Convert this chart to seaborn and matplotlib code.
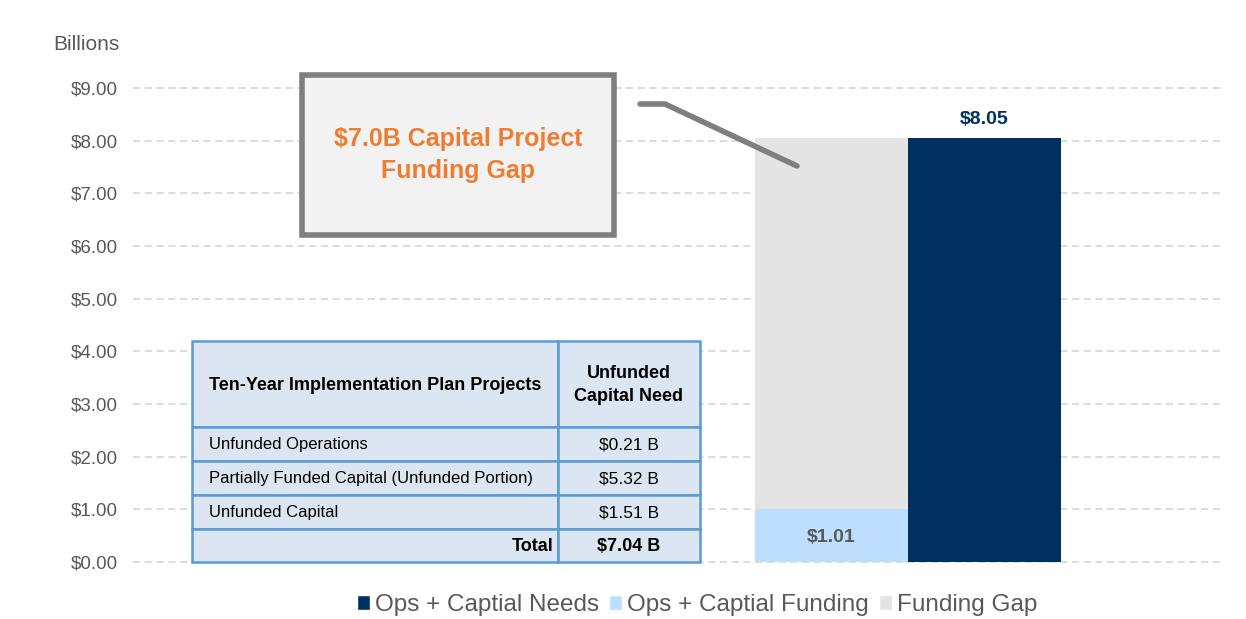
import matplotlib
matplotlib.use("Agg")
import matplotlib.pyplot as plt
import seaborn as sns
from matplotlib.patches import Rectangle, Patch
from matplotlib.lines import Line2D

# data
categories = ["Ops + Captial Funding", "Ops + Captial Needs"]
funding = 1.01
gap = 7.04
needs = 8.05
y_ticks = [0, 1, 2, 3, 4, 5, 6, 7, 8, 9]

table_header = ["Ten-Year Implementation Plan Projects", "Unfunded\nCapital Need"]
table_projects = ["Unfunded Operations",
                  "Partially Funded Capital (Unfunded Portion)",
                  "Unfunded Capital"]
table_amounts = [0.21, 5.32, 1.51]
table_total = 7.04

callout_text = "$7.0B Capital Project\nFunding Gap"

NAVY = "#00305F"
LIGHT_BLUE = "#BDDEFD"
GREY = "#E4E4E4"
ORANGE = "#EE7D31"
TXT = "#595959"
TABLE_FILL = "#DCE6F2"
TABLE_EDGE = "#5B9BD5"

W, H = 1246, 619

sns.set_theme(style="white")
plt.rcParams['font.family'] = ['Liberation Sans', 'DejaVu Sans']
NARROW = ['Liberation Sans Narrow', 'Liberation Sans', 'DejaVu Sans']

fig = plt.figure(figsize=(W / 100, H / 100), dpi=100)
ax = fig.add_axes([133 / W, 1 - 562 / H, 1087 / W, 474 / H])


def px(x, y):
    # pixel position (top-left origin) -> figure fraction
    return x / W, 1 - y / H


# grey bar shows the whole need, light blue overlays the funded part
sns.barplot(x=categories, y=[funding + gap, needs], hue=categories,
            palette=[GREY, NAVY], saturation=1, width=1.0, linewidth=0,
            legend=False, ax=ax, zorder=2)
sns.barplot(x=categories[:1], y=[funding], color=LIGHT_BLUE, saturation=1,
            order=categories, width=1.0, linewidth=0, ax=ax, zorder=3)

ax.set_xlim(-4.565, 2.54)
ax.set_ylim(0, 9)
ax.set_yticks(y_ticks)
ax.set_yticklabels([f"${v:.2f}" for v in y_ticks], color=TXT, fontsize=13.5)
ax.tick_params(axis="y", length=0, pad=11)
ax.set_xticks([])
ax.set_xlabel("")
ax.set_ylabel("")
for s in ax.spines.values():
    s.set_visible(False)
for v in y_ticks:
    ax.axhline(v, color="#D9D9D9", lw=1.3, ls=(0, (4, 2.5)), zorder=1, clip_on=False)

# bar value labels
ax.text(1, needs + 0.2, f"${needs:.2f}", ha="center", va="bottom",
        color=NAVY, fontsize=14, fontweight="bold", zorder=5)
ax.text(0, funding / 2 - 0.04, f"${funding:.2f}", ha="center", va="center",
        color=TXT, fontsize=14, fontweight="bold", zorder=5)

fig.text(*px(53, 45), "Billions", color=TXT, fontsize=15, ha="left", va="center")

# callout box and leader line
x0, y0 = px(302, 235)
x1, y1 = px(614, 75)
fig.patches.append(Rectangle((x0, y0), x1 - x0, y1 - y0, transform=fig.transFigure,
                             facecolor="#F2F2F2", edgecolor="#7F7F7F", lw=4, zorder=6))
fig.text(*px(458, 155), callout_text, color=ORANGE, fontsize=18, fontweight="bold",
         ha="center", va="center", linespacing=1.45, family=NARROW, zorder=7)
lx, ly = zip(px(640, 104), px(665, 104), px(797, 166))
fig.lines.append(Line2D(lx, ly, transform=fig.transFigure, color="#7F7F7F", lw=4,
                        zorder=6))

# table
col_x = [192, 558, 700]
row_y = [341, 427, 461, 495, 529, 562]
rows = [table_header] + [[p, f"${a:.2f} B"] for p, a in zip(table_projects, table_amounts)] \
    + [["Total", f"${table_total:.2f} B"]]
for r, (left_txt, right_txt) in enumerate(rows):
    ta, tb = row_y[r], row_y[r + 1]
    for c in range(2):
        xa, xb = col_x[c], col_x[c + 1]
        fx0, fy0 = px(xa, tb)
        fx1, fy1 = px(xb, ta)
        fig.patches.append(Rectangle((fx0, fy0), fx1 - fx0, fy1 - fy0,
                                     transform=fig.transFigure, facecolor=TABLE_FILL,
                                     edgecolor=TABLE_EDGE, lw=1.8, zorder=8))
    ym = (ta + tb) / 2 + 1
    bold = "bold" if r in (0, len(rows) - 1) else "normal"
    if r == 0:
        fig.text(*px(375, ym), left_txt, ha="center", va="center", fontsize=13,
                 fontweight=bold, family=NARROW, color="black", zorder=9)
    elif r == len(rows) - 1:
        fig.text(*px(554, ym), left_txt, ha="right", va="center", fontsize=13,
                 fontweight=bold, family=NARROW, color="black", zorder=9)
    else:
        fig.text(*px(209, ym), left_txt, ha="left", va="center", fontsize=12,
                 family=NARROW, color="black", zorder=9)
    fig.text(*px(629, ym), right_txt, ha="center", va="center",
             fontsize=13 if r in (0, len(rows) - 1) else 12.5,
             fontweight=bold, family=NARROW, color="black", linespacing=1.4, zorder=9)

# legend
handles = [Patch(facecolor=NAVY, label="Ops + Captial Needs"),
           Patch(facecolor=LIGHT_BLUE, label="Ops + Captial Funding"),
           Patch(facecolor=GREY, label="Funding Gap")]
leg = fig.legend(handles=handles, loc="center", bbox_to_anchor=px(697, 605), ncol=3,
                 frameon=False, fontsize=17.5, handlelength=0.55, handleheight=0.55,
                 handletextpad=0.2, columnspacing=0.4, borderaxespad=0)
for t in leg.get_texts():
    t.set_color(TXT)

fig.savefig("out.png", dpi=100)
